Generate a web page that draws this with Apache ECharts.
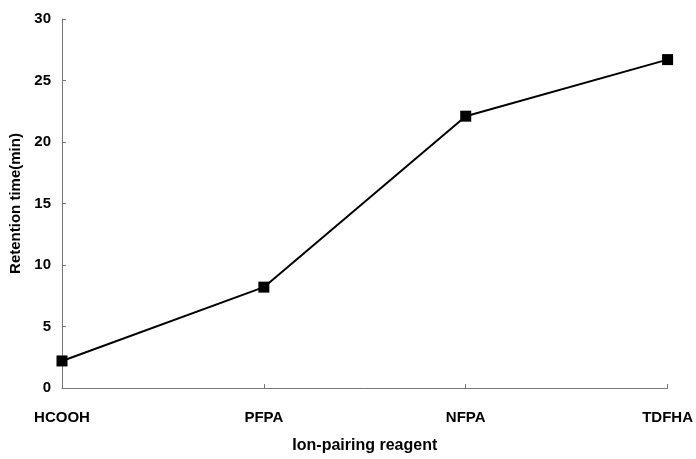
<!DOCTYPE html>
<html><head><meta charset="utf-8">
<script src="https://cdn.jsdelivr.net/npm/echarts@6/dist/echarts.min.js"></script>
<style>html,body{margin:0;padding:0;background:#fff}#c{width:696px;height:459px}</style>
</head><body><div id="c"></div>
<script>
var categories = ['HCOOH', 'PFPA', 'NFPA', 'TDFHA'];
var retentionTime = [2.2, 8.2, 22.1, 26.7];
var yTicks = [0, 5, 10, 15, 20, 25, 30];

var font = 'Liberation Sans, Arial, sans-serif';
var chart = echarts.init(document.getElementById('c'));
chart.setOption({
  backgroundColor: '#fff',
  animation: false,
  grid: { left: 62, right: 25, top: 19, bottom: 64.5 },
  xAxis: {
    type: 'category', data: categories, boundaryGap: false,
    name: 'Ion-pairing reagent', nameLocation: 'middle', nameGap: 50,
    nameTextStyle: { fontFamily: font, fontWeight: 'bold', fontSize: 16, color: '#000' },
    axisLine: { lineStyle: { color: '#777', width: 1 } },
    axisTick: { inside: true, length: 4, lineStyle: { color: '#777' } },
    axisLabel: { fontFamily: font, fontWeight: 'bold', fontSize: 15, color: '#000', margin: 22 },
    splitLine: { show: false }
  },
  yAxis: {
    type: 'value', min: yTicks[0], max: yTicks[yTicks.length - 1], interval: 5,
    name: 'Retention time(min)', nameLocation: 'middle', nameGap: 36,
    nameTextStyle: { fontFamily: font, fontWeight: 'bold', fontSize: 15, color: '#000' },
    axisLine: { show: true, lineStyle: { color: '#777', width: 1 } },
    axisTick: { show: true, inside: true, length: 4, lineStyle: { color: '#777' } },
    axisLabel: { fontFamily: font, fontWeight: 'bold', fontSize: 15, color: '#000', margin: 11 },
    splitLine: { show: false }
  },
  series: [{
    type: 'line', data: retentionTime,
    symbol: 'rect', symbolSize: 11,
    itemStyle: { color: '#000' },
    lineStyle: { color: '#000', width: 2 }
  }]
});
</script></body></html>
